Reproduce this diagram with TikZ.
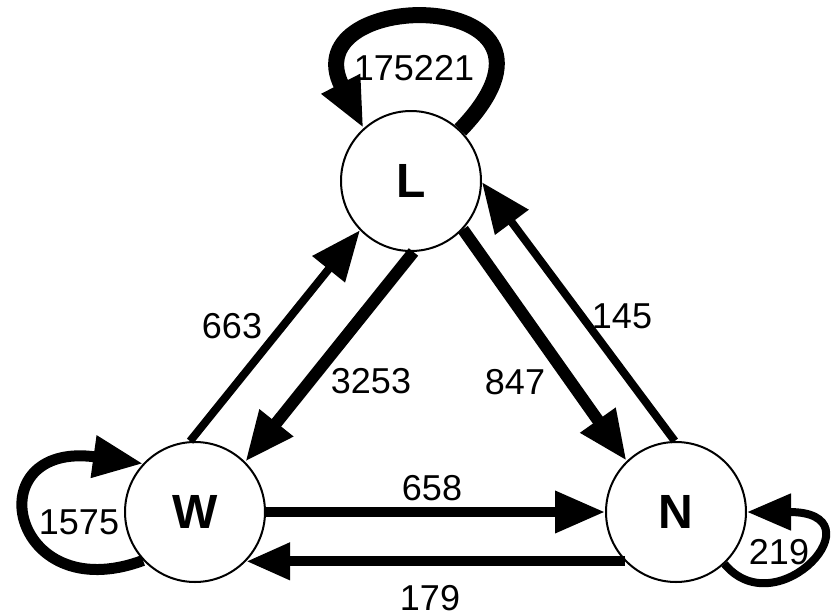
\documentclass[tikz,border=0pt]{standalone}
\usepackage{fontspec}
\setmainfont{Liberation Sans}
\usetikzlibrary{arrows.meta}
\begin{document}
\begin{tikzpicture}[x=0.5pt,y=-0.5pt,
  state/.style={circle,draw,line width=1pt,minimum size=70pt,inner sep=0pt,
    font=\fontsize{24}{28}\selectfont\bfseries},
  lbl/.style={inner sep=0pt,font=\fontsize{18}{21}\selectfont},
  edge/.style={-{Triangle[length=25pt,width=20pt]}},
  smalledge/.style={-{Triangle[length=22pt,width=17.5pt]}},
  ]
\useasboundingbox (0,0) rectangle (831,616);
\node[state] (L) at (411,181) {L};
\node[state] (W) at (195,512) {W};
\node[state] (N) at (676,512) {N};

% straight edges
\draw[edge,line width=4pt] (W.94) -- (L.224);
\draw[edge,line width=6pt] (L.272) -- (W.45);
\draw[edge,line width=6pt] (L.317) -- (N.134);
\draw[edge,line width=4pt] (N.91) -- (L.359);
\draw[edge,line width=5pt] (W.0) -- (N.180);
\draw[smalledge,line width=5pt] (N.224) -- (W.316);

% loops
\draw[edge,line width=8pt] (L.46) .. controls (600,-15) and (290,-15) .. (L.132);
\draw[edge,line width=5.5pt] (W.223) .. controls (10,610) and (-25,440) .. (W.137);
\draw[smalledge,line width=4pt] (N.313) .. controls (778,628) and (882,512) .. (N.0);

% labels
\node[lbl] (lLL) at (414,68) {175221};
\node[lbl] (lWL) at (232,326) {663};
\node[lbl] (lLW) at (371,381) {3253};
\node[lbl] (lLN) at (515,382) {847};
\node[lbl] (lNL) at (622,316) {145};
\node[lbl] (lWN) at (432,488) {658};
\node[lbl] (lNW) at (430,598) {179};
\node[lbl] (lWW) at (79,522) {1575};
\node[lbl] (lNN) at (779,552) {219};
\end{tikzpicture}
\end{document}
